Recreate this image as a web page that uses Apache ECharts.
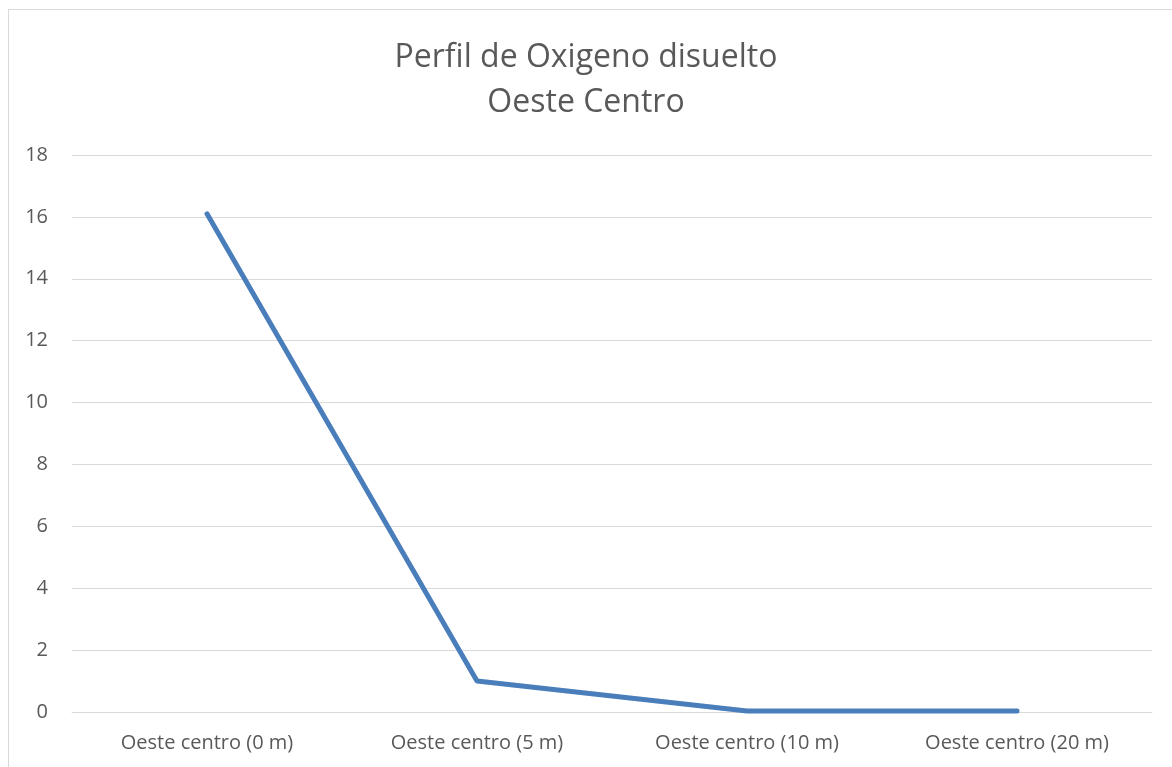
<!DOCTYPE html>
<html><head><meta charset="utf-8">
<script src="https://cdn.jsdelivr.net/npm/echarts@6/dist/echarts.min.js"></script>
<style>
html,body{margin:0;padding:0;background:#fff;overflow:hidden;}
#frame{position:absolute;left:8px;top:9px;width:1180px;height:780px;border:1px solid #d9d9d9;box-sizing:border-box;}
#c{position:absolute;left:0;top:0;width:1172px;height:767px;}
</style></head>
<body><div id="frame"></div><div id="c"></div>
<script>
const categories = ["Oeste centro (0 m)", "Oeste centro (5 m)", "Oeste centro (10 m)", "Oeste centro (20 m)"];
const oxygenValues = [16.1, 1.0, 0.03, 0.03];
const titleLines = ["Perfil de Oxigeno disuelto", "Oeste Centro"];
const yMin = 0, yMax = 18, yInterval = 2;

const chart = echarts.init(document.getElementById('c'), null, {renderer:'canvas'});
chart.setOption({
  backgroundColor: 'transparent',
  animation: false,
  title: {
    text: titleLines.join('\n'),
    left: 'center', top: 30,
    textStyle: {fontFamily: 'Open Sans', fontSize: 32, fontWeight: 'normal', color: '#595959', lineHeight: 45}
  },
  grid: {left: 72, right: 20, top: 155, bottom: 55, containLabel: false},
  xAxis: {
    type: 'category', data: categories, boundaryGap: true,
    axisLine: {show: true, lineStyle: {color: '#d9d9d9', width: 1}},
    axisTick: {show: false},
    axisLabel: {color: '#595959', fontFamily: 'Open Sans', fontSize: 20, margin: 21}
  },
  yAxis: {
    type: 'value', min: yMin, max: yMax, interval: yInterval,
    axisLine: {show: false}, axisTick: {show: false},
    splitLine: {lineStyle: {color: '#d9d9d9', width: 1}},
    axisLabel: {color: '#595959', fontFamily: 'Open Sans', fontSize: 20, margin: 24}
  },
  series: [{
    type: 'line', data: oxygenValues, symbol: 'none',
    lineStyle: {color: '#4a7ebb', width: 5, cap: 'round', join: 'round'}
  }]
});
</script></body></html>
